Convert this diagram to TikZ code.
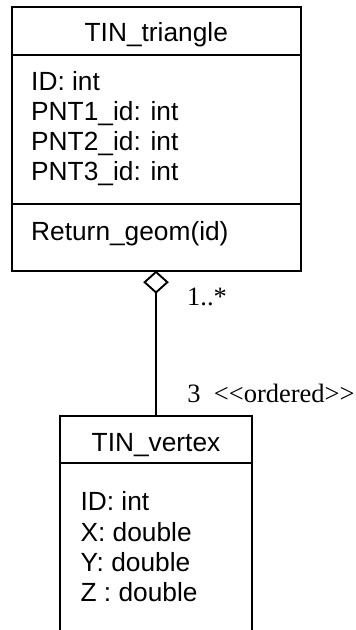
\documentclass[tikz,border=0pt]{standalone}
\usepackage{fontspec}
\setmainfont{Liberation Sans}
\newfontfamily\seriffont{Liberation Serif}
\usetikzlibrary{arrows.meta}
\begin{document}
\begin{tikzpicture}[x=1pt,y=-1pt,
  box/.style={draw=black, line width=1.9pt, rectangle, inner sep=0pt, outer sep=0pt},
  frame/.style={rectangle, inner sep=0pt, outer sep=0pt},
  rule/.style={draw=black, line width=1.9pt},
  txt/.style={anchor=base west, inner sep=0pt, font=\fontsize{26.3}{30}\selectfont},
  ctxt/.style={anchor=base, inner sep=0pt, font=\fontsize{26.3}{30}\selectfont},
  lbl/.style={anchor=base west, inner sep=0pt, font=\seriffont\fontsize{26.5}{30}\selectfont},
  link/.style={draw=black, line width=1.9pt}
]
\useasboundingbox (0,0) rectangle (356,630);
% TIN_triangle class
\node[box, anchor=north west, minimum width=288.7pt, minimum height=263.4pt] (tri) at (12,7.3) {};
\coordinate (triS1) at (12,55);
\coordinate (triS2) at (12,204.3);
\draw[rule] (triS1) -- (triS1 -| tri.east);
\draw[rule] (triS2) -- (triS2 -| tri.east);
\node[ctxt] (triname) at (156.3,41.7) {TIN\_triangle};
\node[txt] (tria1) at (31,90) {ID: int};
\node[txt] (tria2) at (31,120) {PNT1\_id: int};
\node[txt] (tria3) at (31,150) {PNT2\_id: int};
\node[txt] (tria4) at (31,180) {PNT3\_id: int};
\node[txt] (trim1) at (31,240.7) {Return\_geom(id)};
% TIN_vertex class (open at the bottom)
\node[frame, anchor=north west, minimum width=192pt, minimum height=214.3pt] (vert) at (60,415.7) {};
\draw[rule] (vert.south west) -- (vert.north west) -- (vert.north east) -- (vert.south east);
\coordinate (vertS1) at (60,463.3);
\draw[rule] (vertS1) -- (vertS1 -| vert.east);
\node[ctxt] (vertname) at (156,451) {TIN\_vertex};
\node[txt] (verta1) at (80.4,510.7) {ID: int};
\node[txt] (verta2) at (80.4,541) {X: double};
\node[txt] (verta3) at (80.4,571.7) {Y: double};
\node[txt] (verta4) at (80.4,601.7) {Z : double};
% aggregation
\coordinate (aggtop) at (156,270.7);
\draw[link, {Diamond[open, length=23pt, width=25.6pt]}-] (aggtop) -- (aggtop |- vert.north);
\node[lbl] (mult1) at (187,305.7) {1..*};
\node[lbl] (mult2) at (187.2,402.3) {3~~<<ordered>>};
\end{tikzpicture}
\end{document}
